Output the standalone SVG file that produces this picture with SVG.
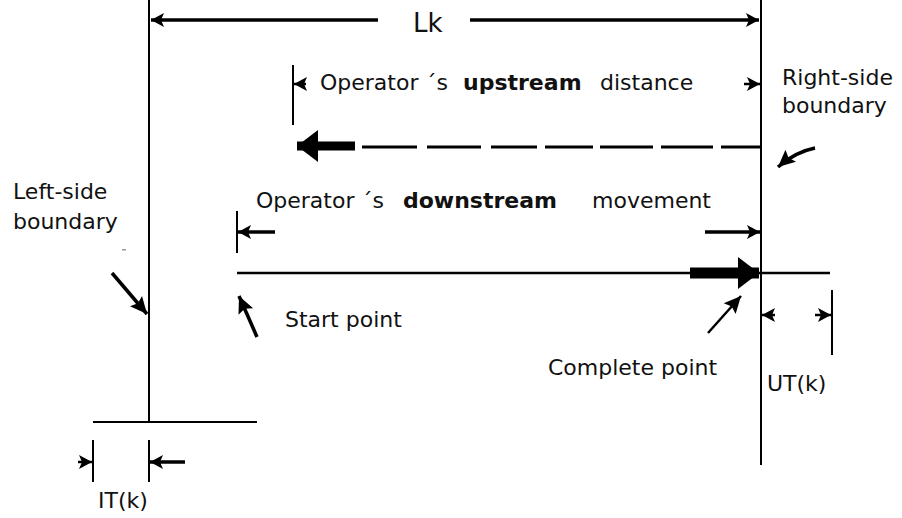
<svg xmlns="http://www.w3.org/2000/svg" width="902" height="518" viewBox="0 0 902 518">
  <defs>
    <!-- small dimension arrowhead -->
    <marker id="head" markerUnits="userSpaceOnUse" markerWidth="14" markerHeight="16" refX="13" refY="8" orient="auto">
      <path d="M0,1 L13,8 L0,15 L3,8 z" fill="#000"/>
    </marker>
    <!-- medium arrowhead for callouts -->
    <marker id="callout" markerUnits="userSpaceOnUse" markerWidth="18" markerHeight="18" refX="17" refY="9" orient="auto">
      <path d="M0,1 L17,9 L0,17 L3,9 z" fill="#000"/>
    </marker>
    <!-- heavy arrowhead for thick movement arrows -->
    <marker id="heavy" markerUnits="userSpaceOnUse" markerWidth="22" markerHeight="34" refX="21" refY="17" orient="auto">
      <path d="M0,1 L21,17 L0,33 z" fill="#000"/>
    </marker>
    <style>
      .line { stroke: #000; stroke-width: 2; fill: none; }
      .dim { stroke: #000; stroke-width: 3.5; fill: none; }
      .thin { stroke: #000; stroke-width: 2.5; fill: none; }
      .dash { stroke: #000; stroke-width: 3; fill: none; }
      text { font-family: "DejaVu Sans", Verdana, sans-serif; font-size: 22px; fill: #111; }
      .b { font-weight: bold; }
    </style>
  </defs>

  <rect width="902" height="518" fill="#fff"/>

  <!-- boundaries -->
  <g id="left-boundary">
    <path class="line" d="M149,0 V422 M93,422 H257"/>
    <text x="13" y="199">Left-side</text>
    <text x="13" y="229">boundary</text>
    <rect x="122" y="249" width="4" height="1.5" fill="#999"/>
  </g>
  <g id="right-boundary">
    <path class="line" d="M761,0 V465"/>
    <text x="782" y="85">Right-side</text>
    <text x="782" y="113">boundary</text>
  </g>

  <!-- Lk span -->
  <g id="lk">
    <text x="413" y="32" style="font-size:26px">Lk</text>
  </g>

  <!-- upstream distance -->
  <g id="upstream">
    <path class="line" d="M293,65 V125"/>
    <text x="320" y="90">Operator ´s</text>
    <text x="463" y="90" class="b">upstream</text>
    <text x="600" y="90">distance</text>
  </g>

  <!-- downstream movement -->
  <g id="downstream">
    <path class="line" d="M237,211 V253"/>
    <text x="256" y="208">Operator ´s</text>
    <text x="403" y="208" class="b">downstream</text>
    <text x="592" y="208">movement</text>
  </g>

  <g id="start-point">
    <text x="285" y="327">Start point</text>
  </g>
  <g id="complete-point">
    <text x="548" y="375">Complete point</text>
  </g>

  <!-- UT(k) -->
  <g id="ut">
    <path class="line" d="M832,290 V355"/>
    <text x="767" y="391">UT(k)</text>
  </g>

  <!-- IT(k) -->
  <g id="it">
    <path class="line" d="M93,440 V482 M149,440 V482"/>
    <text x="98" y="508">IT(k)</text>
  </g>

  <!-- connectors -->
  <g id="connectors">
    <!-- Lk dimension -->
    <path class="dim" d="M378,20 H151" marker-end="url(#head)"/>
    <path class="dim" d="M470,20 H759" marker-end="url(#head)"/>

    <!-- upstream distance ends -->
    <path class="thin" d="M306,84 H294" marker-end="url(#head)"/>
    <path class="thin" d="M744,84 H760" marker-end="url(#head)"/>

    <!-- upstream path, dashed -->
    <path class="dash" d="M362,147 H417 M427,147 H481 M491,147 H537 M545,147 H593 M600,147 H653 M661,147 H713 M721,147 H760"/>
    <path d="M355,146 H297" stroke="#000" stroke-width="9" fill="none" marker-end="url(#heavy)"/>

    <!-- downstream movement ends -->
    <path class="dim" d="M275,232 H238" marker-end="url(#head)"/>
    <path class="dim" d="M705,232 H760" marker-end="url(#head)"/>

    <!-- working line with movement arrow -->
    <path class="thin" d="M237,273 H830"/>
    <path d="M690,273 H759" stroke="#000" stroke-width="11" fill="none" marker-end="url(#heavy)"/>

    <!-- UT(k) ends -->
    <path class="thin" d="M775,315 H762" marker-end="url(#head)"/>
    <path class="thin" d="M815,315 H831" marker-end="url(#head)"/>

    <!-- IT(k) ends -->
    <path class="thin" d="M78,462 H92" marker-end="url(#head)"/>
    <path class="dim" d="M185,462 H150" marker-end="url(#head)"/>

    <!-- callouts -->
    <path class="dim" d="M112,273 L147,314" marker-end="url(#callout)"/>
    <path class="dim" d="M257,337 L239,296" marker-end="url(#callout)"/>
    <path class="thin" d="M708,333 L741,296" marker-end="url(#callout)"/>
    <path class="dim" d="M815,148 Q795,152 778,167" marker-end="url(#callout)"/>
  </g>
</svg>
